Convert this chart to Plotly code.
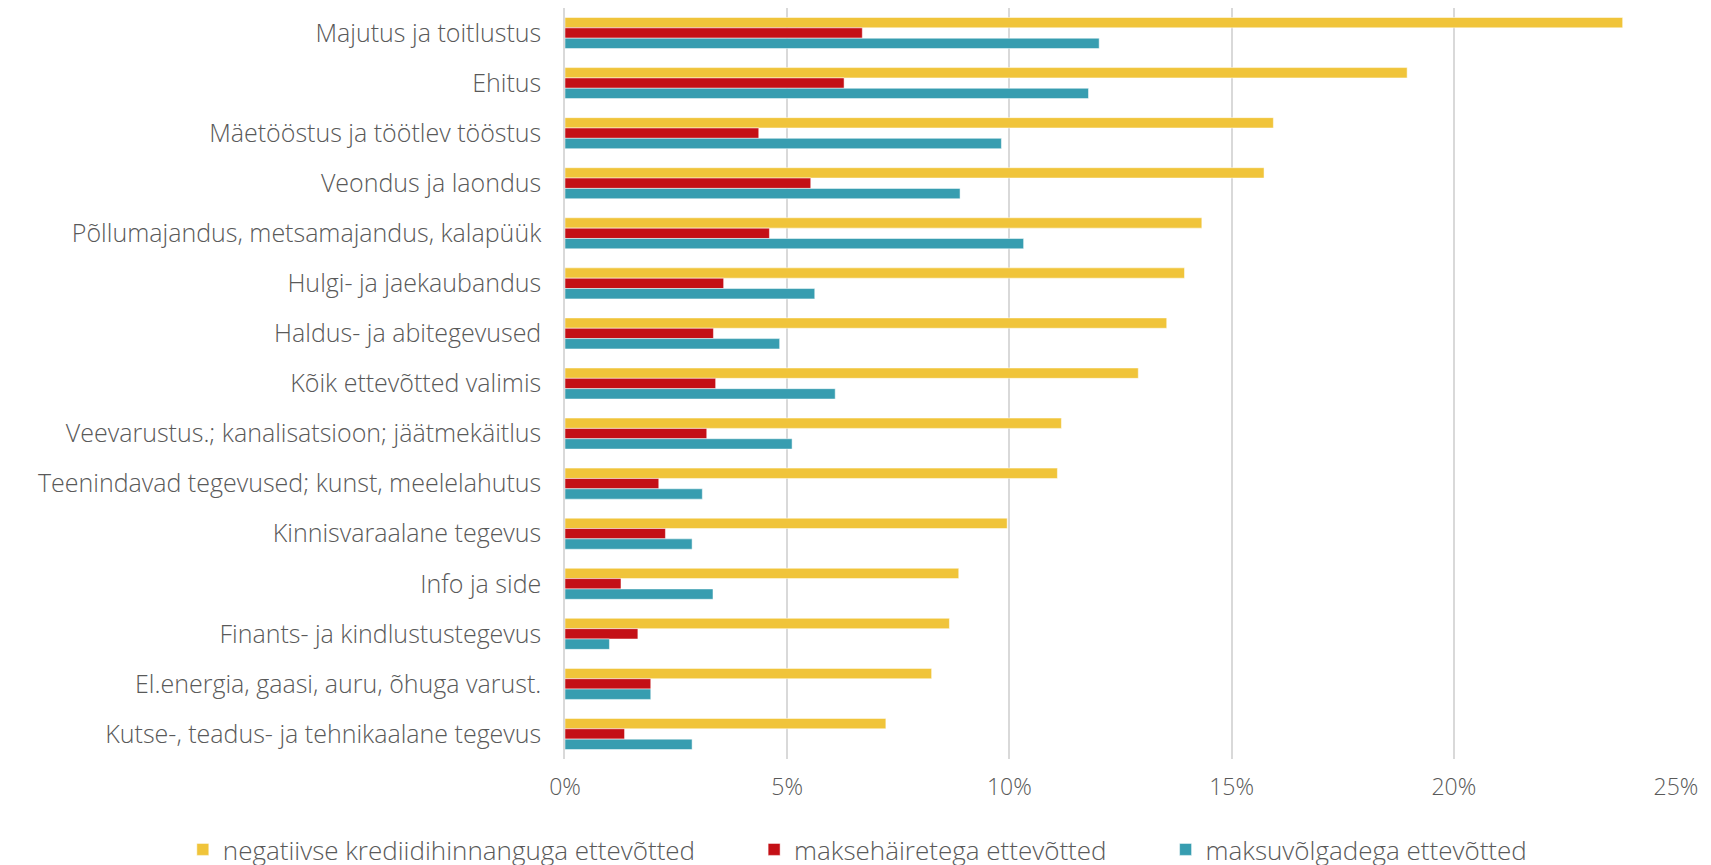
import plotly.graph_objects as go

categories = [
    "Majutus ja toitlustus",
    "Ehitus",
    "Mäetööstus ja töötlev tööstus",
    "Veondus ja laondus",
    "Põllumajandus, metsamajandus, kalapüük",
    "Hulgi- ja jaekaubandus",
    "Haldus- ja abitegevused",
    "Kõik ettevõtted valimis",
    "Veevarustus.; kanalisatsioon; jäätmekäitlus",
    "Teenindavad tegevused; kunst, meelelahutus",
    "Kinnisvaraalane tegevus",
    "Info ja side",
    "Finants- ja kindlustustegevus",
    "El.energia, gaasi, auru, õhuga varust.",
    "Kutse-, teadus- ja tehnikaalane tegevus",
]

negatiivse = [23.8, 18.95, 15.94, 15.73, 14.33, 13.94, 13.54, 12.90, 11.17, 11.08, 9.95, 8.86, 8.65, 8.25, 7.22]
maksehairetega = [6.69, 6.28, 4.36, 5.53, 4.60, 3.57, 3.34, 3.39, 3.19, 2.11, 2.26, 1.26, 1.64, 1.93, 1.34]
maksuvolgadega = [12.02, 11.78, 9.82, 8.89, 10.32, 5.62, 4.83, 6.08, 5.11, 3.09, 2.86, 3.33, 1.00, 1.93, 2.86]

series_names = [
    "negatiivse krediidihinnanguga ettevõtted",
    "maksehäiretega ettevõtted",
    "maksuvõlgadega ettevõtted",
]
colors = ["#F0C43A", "#C41016", "#379DB0"]

tick_vals = [0, 5, 10, 15, 20, 25]
tick_text = ["0%", "5%", "10%", "15%", "20%", "25%"]

FONT = "Open Sans"
GRAY = "#595959"
PAD = "\u00a0" * 8

fig = go.Figure()
for i, (name, vals, col) in enumerate(zip(series_names, [negatiivse, maksehairetega, maksuvolgadega], colors)):
    fig.add_trace(go.Bar(
        y=categories, x=vals, name=name + (PAD if i < 2 else ""), orientation="h",
        marker=dict(color=col, line=dict(color="white", width=0.5)),
    ))

fig.update_layout(
    width=1711, height=865,
    paper_bgcolor="white", plot_bgcolor="white",
    barmode="group", bargap=0.38, bargroupgap=0,
    margin=dict(l=557, r=43, t=0, b=114),
    font=dict(family=FONT, color=GRAY, size=25, weight=300),
    showlegend=True,
    legend=dict(
        orientation="h", xref="paper", yref="paper",
        x=-0.344, xanchor="left", y=-0.121, yanchor="middle",
        font=dict(size=26, color=GRAY, family=FONT, weight=300),
        itemwidth=30, tracegroupgap=0,
    ),
)
fig.update_xaxes(
    range=[0, 25], tickvals=tick_vals, ticktext=tick_text,
    showgrid=True, gridcolor="#D9D9D9", gridwidth=1.5,
    zeroline=False, showline=False, ticks="",
    tickfont=dict(size=23, color=GRAY, family=FONT, weight=300),
    ticklabelstandoff=12,
)
fig.update_yaxes(
    autorange="reversed", showline=True, linecolor="#D9D9D9", linewidth=1.5,
    ticks="", tickfont=dict(size=25, color=GRAY, family=FONT, weight=300),
    ticklabelstandoff=17,
)

fig.write_html("out.html")
